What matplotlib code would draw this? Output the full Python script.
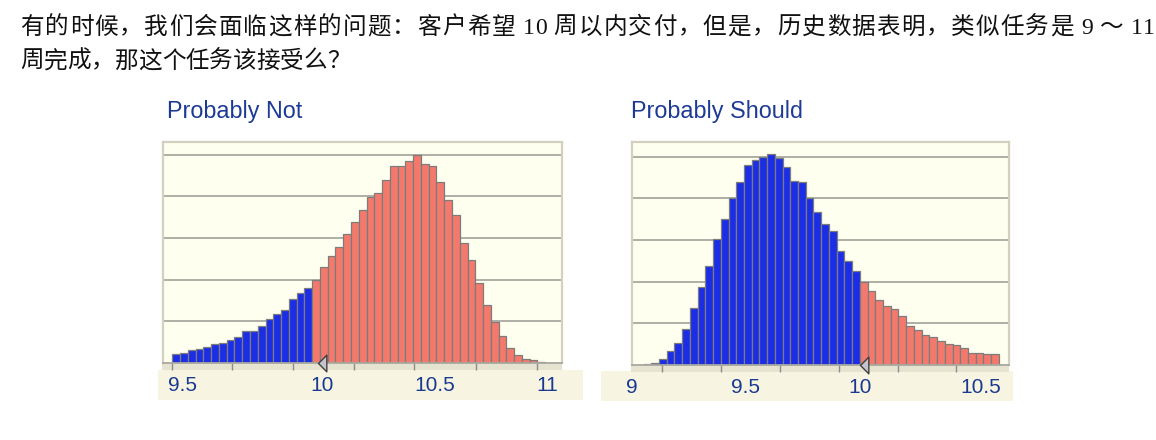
import matplotlib
matplotlib.use("Agg")
import matplotlib.pyplot as plt
from matplotlib.patches import Rectangle
from matplotlib.path import Path
import numpy as np

# ---------------- data ----------------
intro_line1 = "有的时候，我们会面临这样的问题：客户希望 10 周以内交付，但是，历史数据表明，类似任务是 9 ～ 11"
intro_line2 = "周完成，那这个任务该接受么？"

left_title = "Probably Not"
left_bin_start = 9.368
left_bin_width = 0.03378
left_heights = [0.22, 0.25, 0.31, 0.34, 0.39, 0.46, 0.48, 0.55, 0.63, 0.76,
                0.76, 0.89, 1.05, 1.17, 1.27, 1.53, 1.67, 1.81,
                1.99, 2.31, 2.57, 2.79, 3.09, 3.38, 3.68, 3.99, 4.09, 4.39,
                4.73, 4.73, 4.85, 4.98, 4.78, 4.73, 4.35, 3.90, 3.55, 2.87,
                2.47, 1.93, 1.39, 0.99, 0.65, 0.37, 0.20, 0.10, 0.06, 0.03]
left_tick_labels = ["9.5", "10", "10.5", "11"]
left_tick_pos = [9.41, 10.02, 10.51, 11.0]
left_minor = [9.365, 9.628, 9.893, 10.159, 10.42, 10.688, 10.952]

right_title = "Probably Should"
right_bin_start = 9.060
right_bin_width = 0.03348
right_heights = [0.02, 0.06, 0.14, 0.33, 0.52, 0.86, 1.36, 1.87, 2.38, 3.02,
                 3.51, 4.02, 4.40, 4.81, 4.91, 5.00, 5.06, 4.98, 4.76, 4.42,
                 4.40, 4.02, 3.67, 3.38, 3.21, 2.74, 2.50, 2.26,
                 1.99, 1.78, 1.57, 1.41, 1.34, 1.17, 0.93, 0.85, 0.73, 0.67,
                 0.58, 0.50, 0.47, 0.41, 0.30, 0.28, 0.26, 0.26]
right_tick_labels = ["9", "9.5", "10", "10.5"]
right_tick_pos = [9.01, 9.5, 10.0, 10.52]
right_minor = [9.139, 9.396, 9.651, 9.907, 10.162, 10.416]

deadline = 10.0

# ---------------- style ----------------
W, H = 1156, 440
BLUE = "#1b2ee6"
RED = "#f4796c"
EDGE = "#7c7c7c"
PLOT_BG = "#fffff0"
BAND = "#f7f5e2"
STRIP = "#e7e3d1"
FRAME = "#d4d0bf"
GRID = "#a8a8a0"
LABEL = "#1a3990"
FAM = ["Liberation Serif", "Noto Sans CJK SC"]

fig = plt.figure(figsize=(W / 100, H / 100), dpi=100)
fig.patch.set_facecolor("white")
renderer = fig.canvas.get_renderer()


def fx(px):
    return px / W


def fy(py):
    return 1 - py / H


tri_path = Path([(0, 0), (1, -1), (1, 1), (0, 0)],
                [Path.MOVETO, Path.LINETO, Path.LINETO, Path.CLOSEPOLY])


def panel(px0, px1, py_top, py_base, xlim, ylim_top, bin_start, bin_w, heights,
          tick_pos, tick_labels, minor, band, title, title_x):
    fig.patches.append(Rectangle((fx(band[0]), fy(band[3])), fx(band[1] - band[0]),
                                 (band[3] - band[2]) / H, transform=fig.transFigure,
                                 facecolor=BAND, edgecolor="none", zorder=-2))
    fig.patches.append(Rectangle((fx(px0 - 1), fy(py_base + 7)), fx(px1 - px0 + 1),
                                 7 / H, transform=fig.transFigure,
                                 facecolor=STRIP, edgecolor="none", zorder=-1))
    ax = fig.add_axes([fx(px0), fy(py_base), fx(px1 - px0), (py_base - py_top) / H])
    ax.set_facecolor(PLOT_BG)
    n = len(heights)
    edges = bin_start + bin_w * np.arange(n)
    colors = [BLUE if e + bin_w <= deadline + 1e-9 else RED for e in edges]
    ax.bar(edges, heights, width=bin_w, align="edge", color=colors,
           edgecolor=EDGE, linewidth=0.9, zorder=2)
    ax.set_xlim(*xlim)
    ax.set_ylim(0, ylim_top)
    ax.set_yticks([1, 2, 3, 4, 5])
    ax.yaxis.grid(True, color=GRID, linewidth=1.3)
    ax.set_axisbelow(True)
    ax.tick_params(axis="y", length=0, labelleft=False)
    ax.set_xticks(tick_pos)
    ax.set_xticklabels(tick_labels)
    ax.set_xticks(minor, minor=True)
    ax.tick_params(axis="x", which="major", length=0, pad=9.5,
                   labelsize=15, labelcolor=LABEL)
    ax.tick_params(axis="x", which="minor", length=5, width=1, color="#8c8c8c",
                   direction="out")
    for lab in ax.get_xticklabels():
        lab.set_fontfamily("Liberation Sans")
    for side in ("left", "top", "right"):
        ax.spines[side].set_color(FRAME)
        ax.spines[side].set_linewidth(1.6)
    ax.spines["bottom"].set_color(GRID)
    ax.spines["bottom"].set_linewidth(1.3)
    ax.plot([deadline], [0], marker=tri_path, markersize=12,
            markerfacecolor="#c4c4cf", markeredgecolor="#3f3f3f",
            markeredgewidth=1.0, clip_on=False, zorder=5)
    fig.text(fx(title_x), fy(118), title, fontsize=16.8, color="#1c3a96",
             family="Liberation Sans", ha="left", va="baseline")
    return ax


panel(162.5, 562, 142.5, 363, (9.3252, 11.0622), 5.29,
      left_bin_start, left_bin_width, left_heights,
      left_tick_pos, left_tick_labels, left_minor, (158, 583, 370, 400),
      left_title, 167)
panel(632, 1009, 141.7, 365, (9.0258, 10.6438), 5.36,
      right_bin_start, right_bin_width, right_heights,
      right_tick_pos, right_tick_labels, right_minor, (601, 1013, 371, 401),
      right_title, 631)


def text_width(s, size):
    t = fig.text(0, 0, s, fontsize=size, family=FAM)
    w = t.get_window_extent(renderer).width
    t.remove()
    return w


def draw_line(s, x0, y, size, x1=None):
    bar_w = text_width("|", size)
    pos = [text_width(s[:i] + "|", size) - bar_w if i > 0 else 0.0
           for i in range(len(s))]
    last_w = text_width(s[-1], size)
    k = 1.0
    if x1 is not None:
        k = (x1 - x0 - last_w) / pos[-1]
    for ch, p in zip(s, pos):
        if ch == " ":
            continue
        fig.text(fx(x0 + p * k), fy(y), ch, fontsize=size, family=FAM,
                 ha="left", va="center", color="#111111")


draw_line(intro_line1, 20, 28, 17, x1=1155)
draw_line(intro_line2, 20, 62, 17)

fig.savefig("out.png", dpi=100)
